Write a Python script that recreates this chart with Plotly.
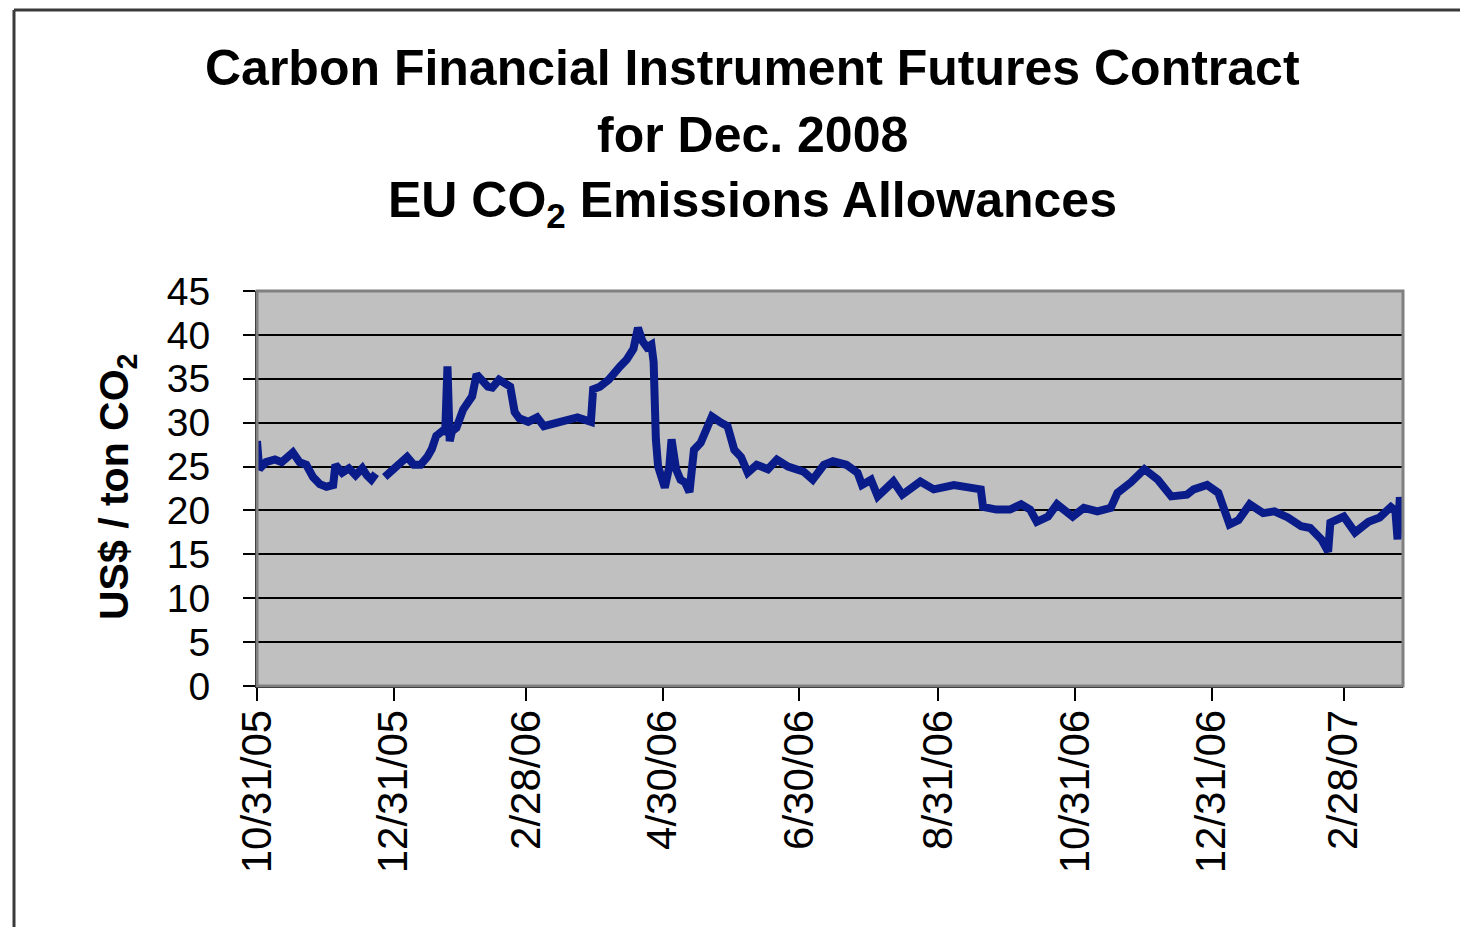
import plotly.graph_objects as go

# ---- data ----
dates = [
    "2005-10-31", "2005-11-01", "2005-11-02", "2005-11-04", "2005-11-08", "2005-11-11",
    "2005-11-16", "2005-11-19", "2005-11-22", "2005-11-25", "2005-11-28", "2005-12-01",
    "2005-12-04", "2005-12-05", "2005-12-08", "2005-12-11", "2005-12-14", "2005-12-17",
    "2005-12-19", "2005-12-21", "2005-12-23", "2005-12-25", "2005-12-27", "2005-12-30",
    "2006-01-02", "2006-01-06", "2006-01-09", "2006-01-12", "2006-01-15", "2006-01-17",
    "2006-01-19", "2006-01-22", "2006-01-23", "2006-01-24", "2006-01-25", "2006-01-26",
    "2006-01-28", "2006-01-31", "2006-02-04", "2006-02-06", "2006-02-11", "2006-02-13",
    "2006-02-16", "2006-02-21", "2006-02-23", "2006-02-25", "2006-03-01", "2006-03-05",
    "2006-03-08", "2006-03-14", "2006-03-23", "2006-03-29", "2006-03-30", "2006-04-02",
    "2006-04-06", "2006-04-11", "2006-04-14", "2006-04-17", "2006-04-19", "2006-04-21",
    "2006-04-23", "2006-04-25", "2006-04-26", "2006-04-27", "2006-04-28", "2006-05-01",
    "2006-05-02", "2006-05-03", "2006-05-04", "2006-05-05", "2006-05-06", "2006-05-08",
    "2006-05-10", "2006-05-12", "2006-05-14", "2006-05-17", "2006-05-22", "2006-05-26",
    "2006-05-29", "2006-06-01", "2006-06-04", "2006-06-07", "2006-06-11", "2006-06-16",
    "2006-06-20", "2006-06-25", "2006-07-02", "2006-07-06", "2006-07-11", "2006-07-15",
    "2006-07-21", "2006-07-26", "2006-07-28", "2006-08-01", "2006-08-04", "2006-08-11",
    "2006-08-15", "2006-08-23", "2006-08-29", "2006-09-07", "2006-09-13", "2006-09-19",
    "2006-09-20", "2006-09-26", "2006-10-02", "2006-10-07", "2006-10-11", "2006-10-14",
    "2006-10-19", "2006-10-23", "2006-10-30", "2006-11-04", "2006-11-10", "2006-11-16",
    "2006-11-19", "2006-11-25", "2006-12-01", "2006-12-07", "2006-12-13", "2006-12-20",
    "2006-12-23", "2006-12-29", "2007-01-03", "2007-01-08", "2007-01-12", "2007-01-17",
    "2007-01-23", "2007-01-28", "2007-02-03", "2007-02-09", "2007-02-13", "2007-02-18",
    "2007-02-21", "2007-02-22", "2007-02-28", "2007-03-05", "2007-03-11", "2007-03-16",
    "2007-03-21", "2007-03-23", "2007-03-24", "2007-03-25", "2007-03-26",
]
prices = [
    27.9, 24.7, 25.0, 25.5, 25.8, 25.5,
    26.6, 25.5, 25.2, 23.8, 23.0, 22.7,
    22.9, 25.2, 24.3, 24.8, 24.0, 24.8,
    24.0, 23.5, 24.2, None, 23.8, 24.5,
    25.0, 26.1, 25.2, 25.2, 26.1, 27.0,
    28.5, 29.1, 29.0, 36.4, 27.9, 29.0,
    29.4, 31.5, 33.0, 35.5, 34.1, 34.0,
    34.9, 34.1, 31.2, 30.5, 30.1, 30.6,
    29.6, 30.0, 30.6, 30.1, 33.8, 34.1,
    34.9, 36.4, 37.2, 38.4, 40.8, 39.3,
    38.6, 38.9, 36.9, 28.1, 25.0, 22.6,
    23.5, 25.0, 28.1, 26.0, 24.7, 23.5,
    23.2, 22.1, 26.9, 27.7, 30.7, 30.0,
    29.6, 26.9, 26.1, 24.3, 25.2, 24.7,
    25.8, 25.0, 24.4, 23.5, 25.2, 25.6,
    25.2, 24.3, 22.9, 23.5, 21.6, 23.3,
    21.8, 23.3, 22.4, 22.9, 22.7, 22.4,
    20.4, 20.1, 20.1, 20.7, 20.1, 18.7,
    19.3, 20.7, 19.3, 20.3, 19.9, 20.3,
    22.0, 23.2, 24.7, 23.5, 21.6, 21.8,
    22.4, 22.9, 22.0, 18.4, 18.9, 20.7,
    19.7, 19.9, 19.2, 18.2, 18.0, 16.7,
    15.3, 18.6, 19.3, 17.5, 18.7, 19.2,
    20.4, 20.0, 16.7, 21.5, 20.0,
]

tick_dates = ["2005-10-31", "2005-12-31", "2006-02-28", "2006-04-30", "2006-06-30",
              "2006-08-31", "2006-10-31", "2006-12-31", "2007-02-28"]
tick_labels = ["10/31/05", "12/31/05", "2/28/06", "4/30/06", "6/30/06",
               "8/31/06", "10/31/06", "12/31/06", "2/28/07"]
y_ticks = [0, 5, 10, 15, 20, 25, 30, 35, 40, 45]

title_lines = ["Carbon Financial Instrument Futures Contract",
               "for Dec. 2008",
               "EU CO<sub>2</sub> Emissions Allowances"]
y_title = "US$ / ton CO<sub>2</sub>"

FONT = "Liberation Sans"
OFF = 8  # page body margin
W, H = 1468 - OFF, 927 - OFF
L, T = 257 - OFF, 291 - OFF
R = W - (1403 - OFF)
B = H - (686 - OFF)
PW = W - L - R
PH = H - T - B


def px_x(x):
    return (x - OFF - L) / PW


def px_y(y):
    return (H - B - (y - OFF)) / PH


fig = go.Figure()
fig.add_trace(go.Scatter(
    x=dates, y=prices, mode="lines",
    line=dict(color="#0a1c8a", width=8),
    connectgaps=False, showlegend=False, hoverinfo="x+y",
))

fig.update_layout(
    width=W, height=H, autosize=False,
    margin=dict(l=L, r=R, t=T, b=B, pad=0),
    paper_bgcolor="white", plot_bgcolor="#c0c0c0",
    font=dict(family=FONT, color="black"),
    showlegend=False,
)

fig.update_xaxes(
    type="date", range=["2005-10-31", "2007-03-26 10:00"],
    tickmode="array", tickvals=tick_dates, ticktext=tick_labels,
    tickangle=-90, tickfont=dict(family=FONT, size=42, color="black"),
    ticks="outside", ticklen=13, tickwidth=2, tickcolor="black",
    showline=True, linecolor="black", linewidth=2,
    showgrid=False, zeroline=False, ticklabelstandoff=-8,
)
fig.update_yaxes(
    range=[0, 45], tickmode="array", tickvals=y_ticks,
    tickfont=dict(family=FONT, size=39, color="black"),
    ticks="outside", ticklen=12, tickwidth=2, tickcolor="black",
    showline=True, linecolor="black", linewidth=2,
    showgrid=True, gridcolor="black", gridwidth=1.5,
    zeroline=False, ticklabelstandoff=25,
)

# plot-area border (top / right in gray)
fig.add_shape(type="rect", xref="paper", yref="paper", x0=0, y0=0, x1=1, y1=1,
              line=dict(color="#808080", width=3), layer="above")
# outer chart border (top and left visible)
fig.add_shape(type="line", xref="paper", yref="paper",
              x0=px_x(14), y0=px_y(10), x1=px_x(1480), y1=px_y(10),
              line=dict(color="#3a3a3a", width=3))
fig.add_shape(type="line", xref="paper", yref="paper",
              x0=px_x(14), y0=px_y(10), x1=px_x(14), y1=px_y(940),
              line=dict(color="#3a3a3a", width=3))

title_y_px = [68, 135, 204]
for txt, ypx in zip(title_lines, title_y_px):
    fig.add_annotation(
        text=txt, xref="paper", yref="paper", x=px_x(752), y=px_y(ypx),
        xanchor="center", yanchor="middle", showarrow=False,
        font=dict(family=FONT, size=50, color="black", weight="bold"),
    )

fig.add_annotation(
    text=y_title, xref="paper", yref="paper", x=px_x(117), y=px_y(487),
    xanchor="center", yanchor="middle", showarrow=False, textangle=-90,
    font=dict(family=FONT, size=41, color="black", weight="bold"),
)

fig.write_html("out.html")
